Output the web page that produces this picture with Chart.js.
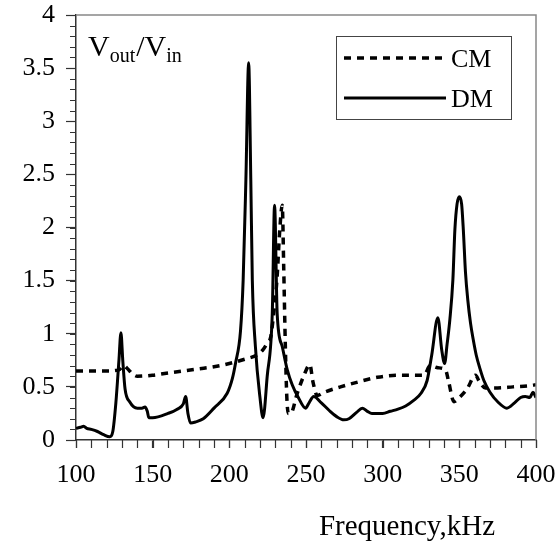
<!DOCTYPE html>
<html><head><meta charset="utf-8">
<script src="https://cdn.jsdelivr.net/npm/chart.js@4/dist/chart.umd.min.js"></script>
<style>html,body{margin:0;padding:0;background:#fff}#wrap{width:560px;height:546px}</style>
</head><body><div id="wrap"><canvas id="c" width="560" height="546"></canvas></div>
<script>
const seriesNames = ['CM', 'DM'];
const freqCM = [100,110,120,128,131,133,135,137,140,150,160,170,180,190,200,210,218,222,225,227,229,231,233,234.5,235.5,236.5,237.5,238.5,240,244.3,249,252.5,254.5,257.3,262,272.5,285,296.5,310,320,327,331,336,341,343,346.5,350,355,360.6,363,367,375,385,395,400];
const valCM = [0.65,0.65,0.65,0.66,0.70,0.68,0.65,0.62,0.60,0.61,0.63,0.65,0.67,0.69,0.72,0.76,0.80,0.85,0.92,0.97,1.2,1.5,2.0,2.21,1.6,0.9,0.4,0.25,0.25,0.44,0.62,0.71,0.55,0.42,0.45,0.50,0.55,0.59,0.61,0.61,0.61,0.70,0.68,0.66,0.55,0.36,0.40,0.48,0.61,0.55,0.49,0.49,0.50,0.51,0.52];
const freqDM = [100,103,105,107,110,114,118,122,124,126,128,129.3,130.5,132,135,140,143,145,146.5,147.5,150,160,166,170,171.5,173,174.7,178,183,190,198.6,202,204,207.3,209,210.8,212.6,214,215,217,219.9,222,224.7,228,229.5,231.2,234.5,237.8,241,245,249.7,252,255,260,265,270,274.7,278,283,286.7,290,293,300,305,310,315,320,325,329,332,336,338.5,340.4,342,343.8,345.8,347.1,348.5,350,351.5,352.6,354,355.5,357.3,359,361,363.5,366,370,375,381,386,390,393,396,398,400];
const valDM = [0.11,0.12,0.13,0.11,0.10,0.08,0.05,0.03,0.08,0.35,0.75,1.01,0.75,0.48,0.36,0.30,0.30,0.31,0.27,0.21,0.21,0.25,0.29,0.34,0.41,0.25,0.16,0.17,0.20,0.30,0.44,0.58,0.72,1.03,1.5,2.45,3.55,2.45,1.5,0.88,0.41,0.21,0.6,1.19,2.21,1.19,0.88,0.66,0.52,0.40,0.30,0.35,0.41,0.35,0.28,0.22,0.19,0.20,0.26,0.30,0.27,0.25,0.25,0.27,0.29,0.32,0.37,0.44,0.56,0.80,1.15,0.85,0.72,0.90,1.13,1.51,1.98,2.22,2.29,2.22,1.98,1.58,1.32,1.10,0.95,0.80,0.67,0.56,0.45,0.36,0.30,0.35,0.40,0.41,0.40,0.45,0.40];
const xRange = [100, 400];
const yRange = [0, 4];
const xMajorStep = 50, xMinorStep = 10;
const yMajorStep = 0.5, yMinorStep = 0.1;
const xTitle = 'Frequency,kHz';
const yTitleParts = [['V', false], ['out', true], ['/', false], ['V', false], ['in', true]];

const SERIF = '"Liberation Serif", "Times New Roman", serif';
const AX = '#333';
const FRAME = '#888';

const toPts = (xs, ys) => xs.map((x, i) => ({x, y: ys[i]}));

const extras = {
  id: 'extras',
  afterDraw(chart) {
    const ctx = chart.ctx;
    const a = chart.chartArea;
    const xs = chart.scales.x, ys = chart.scales.y;
    ctx.save();
    // frame top/right
    ctx.strokeStyle = FRAME; ctx.lineWidth = 1.5;
    ctx.beginPath();
    ctx.moveTo(a.left, a.top); ctx.lineTo(a.right, a.top); ctx.lineTo(a.right, a.bottom);
    ctx.stroke();
    // minor ticks
    ctx.strokeStyle = AX; ctx.lineWidth = 1.2;
    ctx.beginPath();
    for (let v = xRange[0]; v <= xRange[1] + 1e-9; v += xMinorStep) {
      const px = Math.round(xs.getPixelForValue(v)) + 0.5;
      ctx.moveTo(px, a.bottom); ctx.lineTo(px, a.bottom + 8);
    }
    for (let k = 0; k <= Math.round((yRange[1]-yRange[0]) / yMinorStep); k++) {
      const v = yRange[0] + k * yMinorStep;
      const py = Math.round(ys.getPixelForValue(v)) + 0.5;
      ctx.moveTo(a.left - 6, py); ctx.lineTo(a.left, py);
    }
    ctx.stroke();
    // y title with subscripts
    ctx.fillStyle = '#000';
    ctx.textBaseline = 'alphabetic'; ctx.textAlign = 'left';
    let x = 88;
    for (const [t, sub] of yTitleParts) {
      ctx.font = (sub ? '20px ' : '30px ') + SERIF;
      ctx.fillText(t, x, sub ? 62 : 56);
      x += ctx.measureText(t).width + (sub ? 1 : 0);
    }
    // x title
    ctx.font = '29px ' + SERIF;
    ctx.textAlign = 'center'; ctx.textBaseline = 'middle';
    ctx.fillText(xTitle, 407, 527);
    // legend
    const lx = 336.5, ly = 36.5, lw = 175, lh = 83;
    ctx.fillStyle = '#fff';
    ctx.fillRect(lx, ly, lw, lh);
    ctx.strokeStyle = '#444'; ctx.lineWidth = 1;
    ctx.strokeRect(lx, ly, lw, lh);
    chart.data.datasets.forEach((ds, i) => {
      const yy = i === 0 ? 58 : 98;
      ctx.save();
      ctx.strokeStyle = ds.borderColor; ctx.lineWidth = ds.borderWidth;
      ctx.setLineDash(ds.borderDash || []);
      ctx.beginPath(); ctx.moveTo(344, yy); ctx.lineTo(446, yy); ctx.stroke();
      ctx.restore();
      ctx.fillStyle = '#000';
      ctx.font = '26px ' + SERIF; ctx.textAlign = 'left'; ctx.textBaseline = 'middle';
      ctx.fillText(ds.label, 451, yy + 2);
    });
    ctx.restore();
  }
};

new Chart(document.getElementById('c'), {
  type: 'line',
  data: {
    datasets: [
      { label: seriesNames[0], data: toPts(freqCM, valCM), borderColor: '#000', borderWidth: 3.5,
        borderDash: [7, 6], pointRadius: 0, cubicInterpolationMode: 'monotone', fill: false },
      { label: seriesNames[1], data: toPts(freqDM, valDM), borderColor: '#000', borderWidth: 3,
        pointRadius: 0, cubicInterpolationMode: 'monotone', fill: false, borderJoinStyle: 'round' }
    ]
  },
  options: {
    responsive: false, animation: false, devicePixelRatio: 1,
    layout: { padding: { top: 15, right: 24, left: 0, bottom: 0 } },
    plugins: { legend: { display: false }, tooltip: { enabled: false } },
    scales: {
      x: {
        type: 'linear', min: xRange[0], max: xRange[1],
        ticks: { stepSize: xMajorStep, color: '#000', font: { family: SERIF, size: 26 }, padding: 12, maxRotation: 0 },
        grid: { drawOnChartArea: false, tickLength: 8, tickColor: AX, tickWidth: 1.2 },
        border: { color: AX, width: 1.5 },
        afterFit(s) { s.height = 106; s.paddingLeft = 0; s.paddingRight = 0; }
      },
      y: {
        type: 'linear', min: yRange[0], max: yRange[1],
        ticks: { stepSize: yMajorStep, color: '#000', font: { family: SERIF, size: 26 }, padding: 11,
                 callback: v => String(Math.round(v * 10) / 10) },
        grid: { drawOnChartArea: false, tickLength: 10, tickColor: AX, tickWidth: 1.2 },
        border: { color: AX, width: 1.5 },
        afterFit(s) { s.width = 76; s.paddingTop = 0; s.paddingBottom = 0; }
      }
    }
  },
  plugins: [extras]
});
</script></body></html>
